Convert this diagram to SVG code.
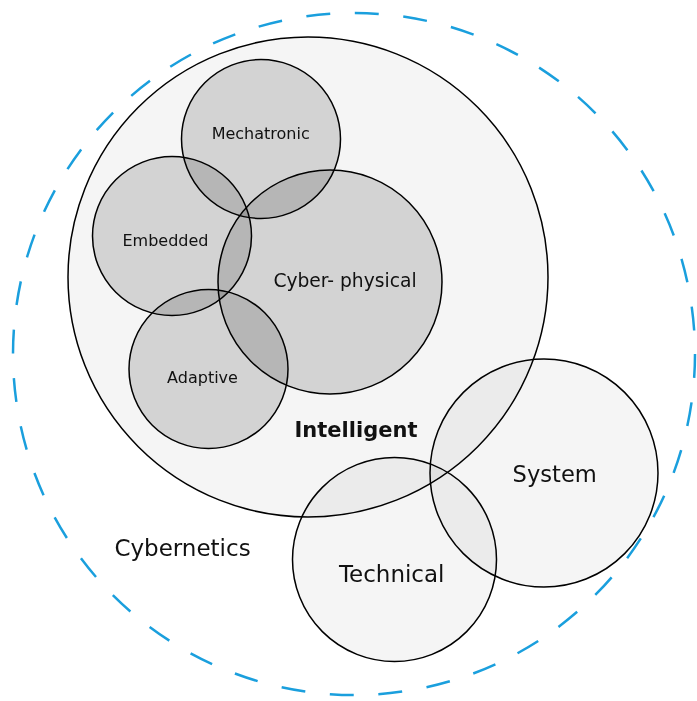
<svg xmlns="http://www.w3.org/2000/svg" width="697" height="701" viewBox="0 0 697 701">
<style>
.c{stroke:#000;stroke-width:1.5;mix-blend-mode:multiply}
.big{fill:#f5f5f5}
.small{fill:#dcdcdc}
.t{font-family:"DejaVu Sans","Liberation Sans",sans-serif;fill:#111;text-anchor:middle}
</style>
<rect width="697" height="701" fill="#fff"/>
<g id="cybernetics">
<circle cx="354" cy="354" r="341" fill="none" stroke="#1a9fdd" stroke-width="2.5" stroke-dasharray="24 24.7"/>
<text class="t" x="182.5" y="556" font-size="23">Cybernetics</text>
</g>
<g id="intelligent">
<circle class="c big" cx="308" cy="277" r="240"/>
</g>
<g id="system">
<circle class="c big" cx="544" cy="473" r="114"/>
</g>
<g id="technical">
<circle class="c big" cx="394.5" cy="559.5" r="102"/>
</g>
<g id="mechatronic">
<circle class="c small" cx="261" cy="139" r="79.5"/>
</g>
<g id="embedded">
<circle class="c small" cx="172" cy="236" r="79.5"/>
</g>
<g id="cyber-physical">
<circle class="c small" cx="330" cy="282" r="112"/>
</g>
<g id="adaptive">
<circle class="c small" cx="208.5" cy="369" r="79.5"/>
</g>
<g id="connectors"></g>
<g id="labels">
<text class="t" x="260.7" y="138.5" font-size="16">Mechatronic</text>
<text class="t" x="165.5" y="246" font-size="16">Embedded</text>
<text class="t" x="345" y="287" font-size="18.7">Cyber- physical</text>
<text class="t" x="202.5" y="383" font-size="16">Adaptive</text>
<text class="t" x="356" y="437" font-size="21" font-weight="bold">Intelligent</text>
<text class="t" x="554.7" y="482" font-size="22.6">System</text>
<text class="t" x="391.7" y="582" font-size="23">Technical</text>
</g>
</svg>
